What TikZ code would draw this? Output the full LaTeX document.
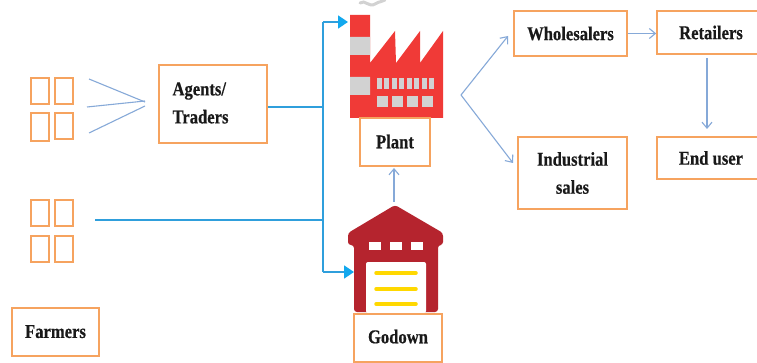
\documentclass[tikz,border=0pt]{standalone}
\usepackage{graphicx}
\usepackage{fontspec}
\setmainfont[BoldFeatures={FakeBold=0.5}]{Liberation Serif}
\usetikzlibrary{arrows.meta}
\definecolor{boxor}{HTML}{F6A35F}
\definecolor{thin}{HTML}{86A9D8}
\definecolor{feed}{HTML}{2F9FDC}
\definecolor{tipc}{HTML}{12A8EE}
\definecolor{fred}{HTML}{F03A37}
\definecolor{fgrey}{HTML}{D2D2D2}
\definecolor{wred}{HTML}{B5242E}
\definecolor{wyel}{HTML}{FFD800}
\tikzset{
  box/.style={draw=boxor,line width=1.7pt,fill=white,inner sep=0pt,font=\bfseries\fontsize{16.6}{28}\selectfont,align=center,text=black!90},
  cell/.style={draw=boxor,line width=1.7pt,fill=white},
  flow/.style={draw=thin,line width=1.1pt},
  flowarrow/.style={flow,-{Straight Barb[length=6pt,width=10pt,line width=1.1pt]}},
  feedline/.style={draw=feed,line width=1.5pt},
  feedarrow/.style={feedline,-{Triangle[length=10pt,width=13pt,color=tipc]}}
}
\newcommand{\tl}[2][0]{\raisebox{#1pt}{\scalebox{1}[1.18]{#2}}}
\begin{document}
\begin{tikzpicture}[x=1pt,y=-1pt]
\clip (0,0) rectangle (757,363);
\fill[white] (0,0) rectangle (757,363);
% farmer cells
\foreach \n/\a/\b/\c/\d in {a/31/78/49/104,b/55/78/73/104,c/31/113/49/141,d/55/113/73/139,e/31/200/49/226,f/55/200/73/226,g/31/236/49/262,h/55/236/73/262}
  \draw[cell] (\a,\b) rectangle (\c,\d);
% factory
\draw[fgrey,line width=3pt,line cap=round] (360,3) .. controls (365,-1) and (369,8) .. (375,4) .. controls (380,1) and (382,2) .. (385,0);
\fill[fred] (350,15) -- (370,15) -- (370,63) -- (395,31) -- (396,63) -- (420,31) -- (420,63) -- (443,31) -- (443,118) -- (350,118) -- cycle;
\fill[fgrey] (350,37) rectangle (370,55) (350,77) rectangle (370,95);
\foreach \x in {377,384,392,399,407,414,422,429} \fill[fgrey] (\x,78) rectangle +(5.2,11);
\foreach \x in {377,392,407,422} \fill[fgrey] (\x,96) rectangle +(11,11);
% warehouse
\fill[wred,rounded corners=3pt] (395,205) -- (443,233) -- (443,245) -- (438,245) -- (438,312) -- (354,312) -- (354,245) -- (348,245) -- (348,233) -- cycle;
\fill[white,rounded corners=2pt] (366,313) -- (366,262) -- (426,262) -- (426,313) -- cycle;
\foreach \x in {369,390,411} \fill[white] (\x,242) rectangle +(12,8);
\foreach \y in {273,289,304} \draw[wyel,line width=3.5pt,line cap=round] (376,\y) -- (416,\y);
% boxes
\node[box,minimum width=108pt,minimum height=78pt] (agents) at (213,104) {};
\node[font=\bfseries\fontsize{16.6}{28}\selectfont,align=left,inner sep=0pt,text=black!90] (agentstext) at (200.5,103) {\tl{Agents/}\\\tl{Traders}};
\node[box,minimum width=70pt,minimum height=48pt] (plant) at (395,142) {\tl[1]{Plant}};
\node[box,minimum width=88pt,minimum height=48pt] (godown) at (398,338) {\tl[3]{Godown}};
\node[box,minimum width=87pt,minimum height=48pt] (farmers) at (55.5,332) {\tl[1]{Farmers}};
\node[box,minimum width=113pt,minimum height=45pt] (whole) at (570.5,33.5) {\tl{Wholesalers}};
\node[box,minimum width=108pt,minimum height=43pt] (retail) at (711,32.5) {\tl[-2]{Retailers}};
\node[box,minimum width=109pt,minimum height=72pt] (indus) at (572.5,173) {\tl[-1]{Industrial}\\\tl[-1]{sales}};
\node[box,minimum width=108pt,minimum height=42pt] (enduser) at (711,158) {\tl[-3]{End user}};
% coordinates
\coordinate (h1) at (145,102);
\coordinate (h2) at (145,101);
\coordinate (h3) at (145,106);
\coordinate (s1) at (89,79);
\coordinate (s2) at (87,107);
\coordinate (s3) at (89,133);
\coordinate (junc) at (323,107);
\coordinate (top) at (323,22);
\coordinate (bot) at (323,272);
\coordinate (factoryin) at (348,22);
\coordinate (wareIn) at (354,272);
\coordinate (lowfarm) at (95,220);
\coordinate (lowj) at (323,220);
\coordinate (split) at (461,95);
\coordinate (splitA) at (508,36);
\coordinate (splitB) at (513,163);
\coordinate (roof) at (394,202);
\coordinate (plantin) at (394,168);
\coordinate (retout) at (707,58);
\coordinate (endin) at (707,129);
% connectors
\draw[flow] (s1) -- (h1);
\draw[flow] (s2) -- (h2);
\draw[flow] (s3) -- (h3);
\draw[feedline] (agents.east |- junc) -- (junc);
\draw[feedline] (lowfarm) -- (lowj);
\draw[feedline] (top) -- (bot);
\draw[feedarrow] (top) -- (factoryin);
\draw[feedarrow] (bot) -- (wareIn);
\draw[flowarrow] (roof) -- (plantin);
\draw[flowarrow] (split) -- (splitA);
\draw[flowarrow] (split) -- (splitB);
\draw[flowarrow] (whole.east) -- (whole.east -| retail.west);
\draw[flowarrow] (retout) -- (endin);
\end{tikzpicture}
\end{document}
